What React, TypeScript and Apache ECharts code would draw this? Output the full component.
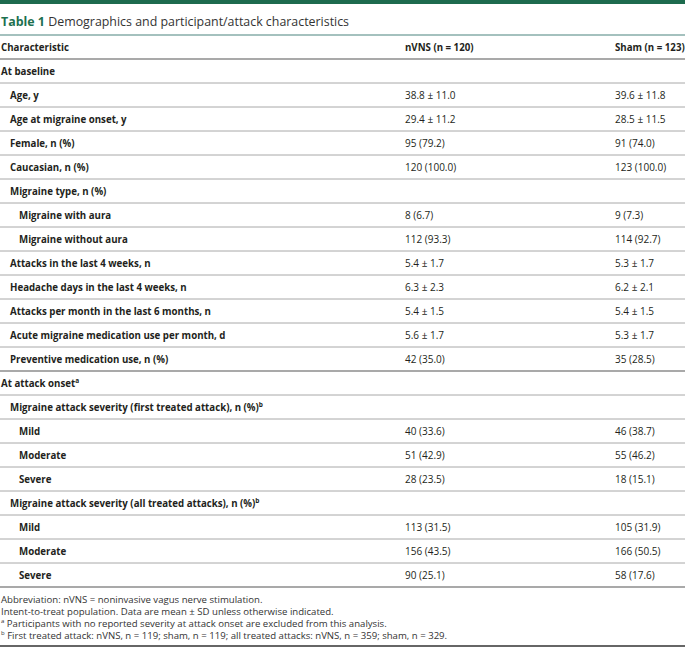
import React, { useEffect, useRef } from "react";
import * as echarts from "echarts";

const titleLabel = "Table 1";
const titleText = "Demographics and participant/attack characteristics";
const headers = ["Characteristic", "nVNS (n = 120)", "Sham (n = 123)"];

const rowLabels = [
  "At baseline",
  "Age, y",
  "Age at migraine onset, y",
  "Female, n (%)",
  "Caucasian, n (%)",
  "Migraine type, n (%)",
  "Migraine with aura",
  "Migraine without aura",
  "Attacks in the last 4 weeks, n",
  "Headache days in the last 4 weeks, n",
  "Attacks per month in the last 6 months, n",
  "Acute migraine medication use per month, d",
  "Preventive medication use, n (%)",
  "At attack onset",
  "Migraine attack severity (first treated attack), n (%)",
  "Mild",
  "Moderate",
  "Severe",
  "Migraine attack severity (all treated attacks), n (%)",
  "Mild",
  "Moderate",
  "Severe",
];
const rowSup = ["", "", "", "", "", "", "", "", "", "", "", "", "", "a", "b", "", "", "", "b", "", "", ""];
const rowIndent = [0, 1, 1, 1, 1, 1, 2, 2, 1, 1, 1, 1, 1, 0, 1, 2, 2, 2, 1, 2, 2, 2];
const nvnsValues = [
  "", "38.8 ± 11.0", "29.4 ± 11.2", "95 (79.2)", "120 (100.0)", "", "8 (6.7)", "112 (93.3)",
  "5.4 ± 1.7", "6.3 ± 2.3", "5.4 ± 1.5", "5.6 ± 1.7", "42 (35.0)", "", "",
  "40 (33.6)", "51 (42.9)", "28 (23.5)", "", "113 (31.5)", "156 (43.5)", "90 (25.1)",
];
const shamValues = [
  "", "39.6 ± 11.8", "28.5 ± 11.5", "91 (74.0)", "123 (100.0)", "", "9 (7.3)", "114 (92.7)",
  "5.3 ± 1.7", "6.2 ± 2.1", "5.4 ± 1.5", "5.3 ± 1.7", "35 (28.5)", "", "",
  "46 (38.7)", "55 (46.2)", "18 (15.1)", "", "105 (31.9)", "166 (50.5)", "58 (17.6)",
];
const majorLineAfter = [12, 21];
const footnotes = [
  { sup: "", text: "Abbreviation: nVNS = noninvasive vagus nerve stimulation." },
  { sup: "", text: "Intent-to-treat population. Data are mean ± SD unless otherwise indicated." },
  { sup: "a", text: " Participants with no reported severity at attack onset are excluded from this analysis." },
  { sup: "b", text: " First treated attack: nVNS, n = 119; sham, n = 119; all treated attacks: nVNS, n = 359; sham, n = 329." },
];

const FONT = "'Open Sans', 'Noto Sans', sans-serif";
const TEXT = "#231f20";
const BOLD_SIZE = 9.7;

export default function App() {
  const ref = useRef<HTMLDivElement>(null);
  useEffect(() => {
    document.body.style.margin = "0";
    const chart = echarts.init(ref.current!, null, { renderer: "svg" });
    const W = 685;
    const els: any[] = [];
    els.push({ type: "rect", shape: { x: 0, y: 0, width: W, height: 4 }, style: { fill: "#1d6b4e" } });
    els.push({
      type: "text", x: 1, y: 21,
      style: {
        text: `{a|${titleLabel}} {b|${titleText}}`,
        verticalAlign: "middle",
        rich: {
          a: { fontFamily: FONT, fontSize: 12.4, fontWeight: 700, fill: "#1d7050" },
          b: { fontFamily: FONT, fontSize: 12.4, fontWeight: 400, fill: "#333" },
        },
      },
    });
    els.push({ type: "line", shape: { x1: 0, y1: 35, x2: W, y2: 35 }, style: { stroke: "#86aca8", lineWidth: 1.5 } });
    const colX = [1, 405, 615];
    headers.forEach((h, i) => {
      els.push({
        type: "text", x: colX[i], y: 47,
        style: { text: h, fontFamily: FONT, fontSize: BOLD_SIZE, fontWeight: "bold", fill: TEXT, verticalAlign: "middle" },
      });
    });
    const top = 59;
    const rh = 24;
    els.push({ type: "line", shape: { x1: 0, y1: top, x2: W, y2: top }, style: { stroke: "#555", lineWidth: 1.2 } });
    rowLabels.forEach((lab, i) => {
      const cy = top + rh * i + 12;
      const x = 1 + rowIndent[i] * 9;
      const sup = rowSup[i];
      els.push({
        type: "text", x, y: cy,
        style: {
          text: sup ? `{m|${lab}}{s|${sup}}` : `{m|${lab}}`,
          verticalAlign: "middle",
          rich: {
            m: { fontFamily: FONT, fontSize: BOLD_SIZE, fontWeight: "bold", fill: TEXT },
            s: { fontFamily: FONT, fontSize: 6.5, fontWeight: "bold", fill: TEXT, verticalAlign: "top", padding: [0, 0, 6, 0] },
          },
        },
      });
      if (nvnsValues[i]) {
        els.push({ type: "text", x: colX[1], y: cy, style: { text: nvnsValues[i], fontFamily: FONT, fontSize: 10, fill: TEXT, verticalAlign: "middle" } });
      }
      if (shamValues[i]) {
        els.push({ type: "text", x: colX[2], y: cy, style: { text: shamValues[i], fontFamily: FONT, fontSize: 10, fill: TEXT, verticalAlign: "middle" } });
      }
      const ly = top + rh * (i + 1);
      const major = majorLineAfter.includes(i);
      els.push({
        type: "line", shape: { x1: 0, y1: ly, x2: W, y2: ly },
        style: { stroke: major ? "#555" : "#a8a8a8", lineWidth: major ? 1.2 : 1 },
      });
    });
    const fy = top + rh * rowLabels.length + 12;
    footnotes.forEach((f, i) => {
      els.push({
        type: "text", x: 1, y: fy + i * 12,
        style: {
          text: f.sup ? `{s|${f.sup}}{t|${f.text}}` : `{t|${f.text}}`,
          verticalAlign: "middle",
          rich: {
            t: { fontFamily: FONT, fontSize: 9.6, fill: "#333" },
            s: { fontFamily: FONT, fontSize: 6, fill: "#333", verticalAlign: "top", padding: [0, 0, 5, 0] },
          },
        },
      });
    });
    els.push({ type: "line", shape: { x1: 0, y1: 646, x2: W, y2: 646 }, style: { stroke: "#333", lineWidth: 1.5 } });

    chart.setOption({ animation: false, graphic: { elements: els } });
    return () => chart.dispose();
  }, []);
  return <div ref={ref} style={{ width: 685, height: 648 }} />;
}
